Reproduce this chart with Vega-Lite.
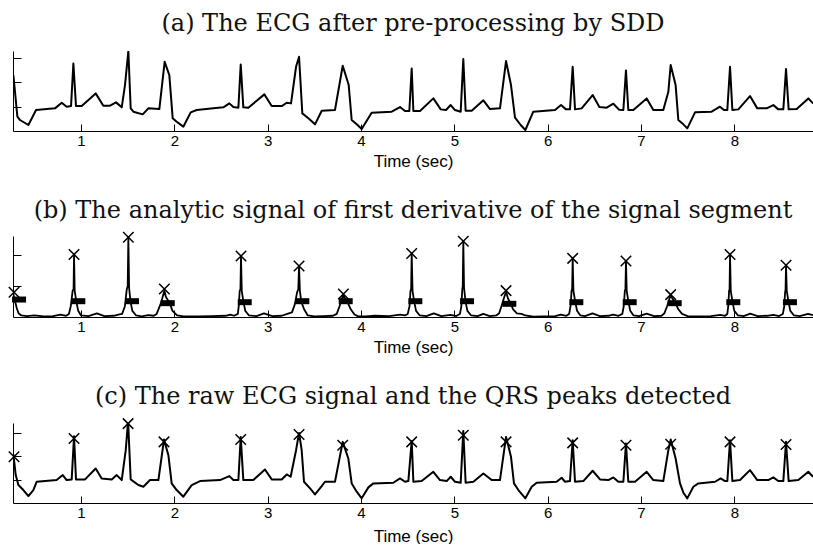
{
 "$schema": "https://vega.github.io/schema/vega-lite/v6.json",
 "padding": {"left": 5, "top": 12, "right": 0, "bottom": 0},
 "spacing": 30,
 "config": {
  "view": {"stroke": null},
  "title": {"font": "DejaVu Serif", "fontSize": 24, "fontWeight": "normal", "color": "#111", "baseline": "alphabetic", "anchor": "middle", "frame": "group"},
  "axis": {"grid": false, "domainColor": "#000", "tickColor": "#000", "labelColor": "#000", "titleColor": "#000", "labelFont": "Liberation Sans", "titleFont": "Liberation Sans", "labelFontSize": 15, "titleFontSize": 17, "titleFontWeight": "normal", "domainWidth": 1, "tickWidth": 1},
  "axisX": {"tickSize": -7, "labelPadding": 9, "titlePadding": 5, "labelFlush": false},
  "axisY": {"tickSize": -8, "labels": false}
 },
 "datasets": {
  "a": [
   {"t":0.275,"v":2.29},{"t":0.318,"v":0.585},{"t":0.346,"v":0.449},{"t":0.436,"v":0.245},{"t":0.518,"v":0.857},{"t":0.721,"v":0.925},{"t":0.793,"v":1.156},{"t":0.846,"v":0.993},{"t":0.893,"v":1.02},{"t":0.918,"v":2.76},{"t":0.946,"v":1.02},{"t":1.007,"v":1.02},{"t":1.157,"v":1.537},{"t":1.239,"v":1.034},{"t":1.311,"v":1.034},{"t":1.375,"v":1.17},{"t":1.436,"v":0.966},{"t":1.471,"v":1.878},{"t":1.507,"v":3.265},{"t":1.532,"v":0.925},{"t":1.561,"v":0.789},{"t":1.661,"v":0.68},{"t":1.721,"v":0.925},{"t":1.839,"v":0.898},{"t":1.896,"v":2.83},{"t":1.946,"v":2.286},{"t":1.982,"v":0.517},{"t":2.025,"v":0.381},{"t":2.096,"v":0.177},{"t":2.175,"v":0.762},{"t":2.239,"v":0.857},{"t":2.418,"v":0.925},{"t":2.525,"v":0.966},{"t":2.589,"v":1.129},{"t":2.632,"v":0.98},{"t":2.686,"v":0.952},{"t":2.711,"v":2.72},{"t":2.739,"v":0.966},{"t":2.793,"v":0.952},{"t":2.964,"v":1.497},{"t":3.043,"v":1.02},{"t":3.15,"v":1.02},{"t":3.204,"v":1.156},{"t":3.25,"v":1.129},{"t":3.304,"v":2.626},{"t":3.336,"v":3.034},{"t":3.371,"v":0.721},{"t":3.436,"v":0.517},{"t":3.507,"v":0.272},{"t":3.579,"v":0.83},{"t":3.721,"v":0.857},{"t":3.804,"v":2.667},{"t":3.868,"v":1.878},{"t":3.9,"v":0.449},{"t":3.954,"v":0.272},{"t":4.007,"v":0.082},{"t":4.114,"v":0.748},{"t":4.329,"v":0.789},{"t":4.418,"v":0.98},{"t":4.471,"v":0.816},{"t":4.518,"v":0.816},{"t":4.543,"v":2.558},{"t":4.561,"v":0.816},{"t":4.632,"v":0.816},{"t":4.775,"v":1.333},{"t":4.854,"v":0.884},{"t":4.911,"v":0.857},{"t":4.961,"v":1.061},{"t":5.007,"v":0.857},{"t":5.068,"v":0.789},{"t":5.096,"v":2.939},{"t":5.121,"v":0.83},{"t":5.186,"v":0.83},{"t":5.311,"v":1.252},{"t":5.382,"v":0.898},{"t":5.489,"v":0.925},{"t":5.554,"v":2.857},{"t":5.607,"v":1.878},{"t":5.65,"v":0.544},{"t":5.711,"v":0.245},{"t":5.761,"v":0.041},{"t":5.846,"v":0.789},{"t":6.079,"v":0.857},{"t":6.143,"v":1.061},{"t":6.196,"v":0.884},{"t":6.239,"v":0.884},{"t":6.268,"v":2.626},{"t":6.293,"v":0.884},{"t":6.364,"v":0.925},{"t":6.482,"v":1.469},{"t":6.554,"v":0.98},{"t":6.632,"v":0.952},{"t":6.704,"v":1.116},{"t":6.764,"v":0.871},{"t":6.811,"v":0.857},{"t":6.839,"v":2.476},{"t":6.864,"v":0.857},{"t":6.918,"v":0.857},{"t":7.061,"v":1.333},{"t":7.132,"v":0.857},{"t":7.239,"v":0.857},{"t":7.293,"v":1.605},{"t":7.318,"v":2.694},{"t":7.371,"v":1.878},{"t":7.4,"v":0.449},{"t":7.454,"v":0.272},{"t":7.496,"v":0.109},{"t":7.579,"v":0.762},{"t":7.757,"v":0.789},{"t":7.846,"v":0.993},{"t":7.889,"v":0.857},{"t":7.925,"v":0.857},{"t":7.954,"v":2.626},{"t":7.979,"v":0.857},{"t":8.043,"v":0.884},{"t":8.168,"v":1.429},{"t":8.246,"v":0.925},{"t":8.346,"v":0.925},{"t":8.418,"v":1.061},{"t":8.471,"v":0.884},{"t":8.525,"v":0.884},{"t":8.554,"v":2.531},{"t":8.582,"v":0.884},{"t":8.668,"v":0.898},{"t":8.793,"v":1.333},{"t":8.843,"v":1.129}
  ],
  "b": [
   {"t":0.275,"v":0.75},{"t":0.29,"v":0.55},{"t":0.31,"v":0.3},{"t":0.33,"v":0.12},{"t":0.36,"v":0.05},{"t":0.42,"v":0.03},{"t":0.5,"v":0.05},{"t":0.6,"v":0.02},{"t":0.7,"v":0.03},{"t":0.78,"v":0.08},{"t":0.84,"v":0.04},{"t":0.87,"v":0.1},
   {"t":0.89,"v":0.35},{"t":0.91,"v":0.85},{"t":0.92,"v":0.9},{"t":0.925,"v":2.03},{"t":0.932,"v":0.85},{"t":0.95,"v":0.5},{"t":0.97,"v":0.2},{"t":1.0,"v":0.05},
   {"t":1.08,"v":0.03},{"t":1.17,"v":0.12},{"t":1.25,"v":0.03},{"t":1.35,"v":0.04},{"t":1.4,"v":0.08},{"t":1.44,"v":0.1},
   {"t":1.47,"v":0.35},{"t":1.49,"v":0.9},{"t":1.5,"v":1.0},{"t":1.507,"v":2.59},{"t":1.515,"v":0.95},{"t":1.53,"v":0.5},{"t":1.55,"v":0.2},{"t":1.59,"v":0.05},
   {"t":1.65,"v":0.02},{"t":1.72,"v":0.06},{"t":1.78,"v":0.04},
   {"t":1.81,"v":0.1},{"t":1.85,"v":0.4},{"t":1.87,"v":0.6},{"t":1.893,"v":0.85},{"t":1.91,"v":0.65},{"t":1.95,"v":0.45},{"t":1.98,"v":0.2},{"t":2.03,"v":0.05},
   {"t":2.1,"v":0.02},{"t":2.25,"v":0.02},{"t":2.4,"v":0.03},{"t":2.55,"v":0.04},{"t":2.6,"v":0.08},{"t":2.64,"v":0.04},{"t":2.68,"v":0.1},
   {"t":2.69,"v":0.35},{"t":2.7,"v":0.85},{"t":2.708,"v":0.9},{"t":2.714,"v":1.98},{"t":2.722,"v":0.85},{"t":2.74,"v":0.5},{"t":2.76,"v":0.2},{"t":2.8,"v":0.05},
   {"t":2.88,"v":0.03},{"t":2.96,"v":0.12},{"t":3.05,"v":0.03},{"t":3.15,"v":0.04},{"t":3.21,"v":0.1},{"t":3.26,"v":0.15},
   {"t":3.29,"v":0.4},{"t":3.315,"v":0.8},{"t":3.328,"v":0.9},{"t":3.336,"v":1.66},{"t":3.345,"v":0.85},{"t":3.36,"v":0.5},{"t":3.39,"v":0.25},{"t":3.43,"v":0.05},
   {"t":3.5,"v":0.02},{"t":3.6,"v":0.03},{"t":3.7,"v":0.04},{"t":3.74,"v":0.1},
   {"t":3.77,"v":0.35},{"t":3.79,"v":0.55},{"t":3.811,"v":0.72},{"t":3.83,"v":0.6},{"t":3.86,"v":0.45},{"t":3.89,"v":0.25},{"t":3.93,"v":0.08},{"t":3.97,"v":0.02},
   {"t":4.05,"v":0.02},{"t":4.15,"v":0.04},{"t":4.3,"v":0.03},{"t":4.42,"v":0.08},{"t":4.47,"v":0.05},{"t":4.5,"v":0.1},
   {"t":4.52,"v":0.35},{"t":4.53,"v":0.85},{"t":4.537,"v":0.9},{"t":4.543,"v":2.06},{"t":4.552,"v":0.85},{"t":4.57,"v":0.5},{"t":4.59,"v":0.2},{"t":4.63,"v":0.05},
   {"t":4.7,"v":0.03},{"t":4.78,"v":0.12},{"t":4.86,"v":0.03},{"t":4.96,"v":0.07},{"t":5.02,"v":0.03},{"t":5.06,"v":0.1},
   {"t":5.075,"v":0.35},{"t":5.085,"v":0.9},{"t":5.09,"v":1.0},{"t":5.096,"v":2.46},{"t":5.104,"v":0.95},{"t":5.12,"v":0.5},{"t":5.14,"v":0.2},{"t":5.18,"v":0.05},
   {"t":5.25,"v":0.03},{"t":5.31,"v":0.1},{"t":5.38,"v":0.03},{"t":5.45,"v":0.05},
   {"t":5.48,"v":0.12},{"t":5.51,"v":0.4},{"t":5.53,"v":0.6},{"t":5.554,"v":0.82},{"t":5.575,"v":0.6},{"t":5.6,"v":0.45},{"t":5.63,"v":0.25},{"t":5.67,"v":0.12},{"t":5.72,"v":0.1},{"t":5.76,"v":0.05},
   {"t":5.85,"v":0.01},{"t":5.95,"v":0.02},{"t":6.08,"v":0.03},{"t":6.14,"v":0.08},{"t":6.2,"v":0.04},{"t":6.23,"v":0.1},
   {"t":6.245,"v":0.35},{"t":6.256,"v":0.85},{"t":6.262,"v":0.9},{"t":6.268,"v":1.9},{"t":6.276,"v":0.85},{"t":6.295,"v":0.5},{"t":6.315,"v":0.2},{"t":6.35,"v":0.05},
   {"t":6.4,"v":0.03},{"t":6.48,"v":0.12},{"t":6.56,"v":0.03},{"t":6.65,"v":0.04},{"t":6.7,"v":0.08},{"t":6.76,"v":0.04},{"t":6.8,"v":0.1},
   {"t":6.815,"v":0.35},{"t":6.827,"v":0.85},{"t":6.833,"v":0.9},{"t":6.839,"v":1.82},{"t":6.847,"v":0.85},{"t":6.865,"v":0.5},{"t":6.885,"v":0.2},{"t":6.92,"v":0.05},
   {"t":6.98,"v":0.03},{"t":7.06,"v":0.11},{"t":7.14,"v":0.03},{"t":7.22,"v":0.04},
   {"t":7.25,"v":0.12},{"t":7.28,"v":0.35},{"t":7.3,"v":0.55},{"t":7.318,"v":0.7},{"t":7.34,"v":0.58},{"t":7.37,"v":0.45},{"t":7.4,"v":0.25},{"t":7.44,"v":0.1},{"t":7.5,"v":0.03},
   {"t":7.6,"v":0.02},{"t":7.75,"v":0.03},{"t":7.85,"v":0.07},{"t":7.9,"v":0.04},{"t":7.925,"v":0.1},
   {"t":7.935,"v":0.35},{"t":7.944,"v":0.85},{"t":7.949,"v":0.9},{"t":7.954,"v":2.03},{"t":7.962,"v":0.85},{"t":7.98,"v":0.5},{"t":8.0,"v":0.2},{"t":8.04,"v":0.05},
   {"t":8.1,"v":0.03},{"t":8.17,"v":0.11},{"t":8.25,"v":0.03},{"t":8.35,"v":0.04},{"t":8.42,"v":0.07},{"t":8.48,"v":0.03},{"t":8.52,"v":0.1},
   {"t":8.535,"v":0.35},{"t":8.544,"v":0.8},{"t":8.549,"v":0.9},{"t":8.554,"v":1.68},{"t":8.562,"v":0.85},{"t":8.58,"v":0.5},{"t":8.6,"v":0.2},{"t":8.64,"v":0.05},
   {"t":8.7,"v":0.03},{"t":8.79,"v":0.1},{"t":8.843,"v":0.06}
  ],
  "bx": [
   {"t":0.282,"v":0.802},{"t":0.925,"v":2.032},{"t":1.507,"v":2.588},{"t":1.893,"v":0.909},{"t":2.714,"v":1.979},{"t":3.336,"v":1.658},{"t":3.811,"v":0.749},{"t":4.543,"v":2.064},{"t":5.096,"v":2.46},{"t":5.554,"v":0.856},{"t":6.268,"v":1.904},{"t":6.839,"v":1.818},{"t":7.318,"v":0.727},{"t":7.954,"v":2.032},{"t":8.554,"v":1.679}
  ],
  "bbar": [
   {"t":0.336,"v":0.567},{"t":0.971,"v":0.513},{"t":1.546,"v":0.513},{"t":1.929,"v":0.449},{"t":2.754,"v":0.481},{"t":3.371,"v":0.513},{"t":3.836,"v":0.513},{"t":4.582,"v":0.513},{"t":5.136,"v":0.513},{"t":5.589,"v":0.428},{"t":6.307,"v":0.481},{"t":6.879,"v":0.481},{"t":7.361,"v":0.449},{"t":7.989,"v":0.481},{"t":8.596,"v":0.481}
  ],
  "c": [
   {"t":0.275,"v":2.1},{"t":0.3,"v":1.2},{"t":0.329,"v":0.771},{"t":0.382,"v":0.557},{"t":0.436,"v":0.3},{"t":0.489,"v":0.557},{"t":0.525,"v":0.914},{"t":0.739,"v":0.986},{"t":0.804,"v":1.2},{"t":0.846,"v":0.986},{"t":0.9,"v":1.014},{"t":0.925,"v":2.871},{"t":0.946,"v":1.014},{"t":1.043,"v":1.014},{"t":1.157,"v":1.486},{"t":1.221,"v":1.057},{"t":1.329,"v":1.014},{"t":1.382,"v":1.2},{"t":1.436,"v":0.986},{"t":1.479,"v":2.271},{"t":1.504,"v":3.529},{"t":1.532,"v":1.014},{"t":1.614,"v":0.771},{"t":1.668,"v":0.7},{"t":1.739,"v":0.986},{"t":1.829,"v":0.986},{"t":1.889,"v":2.729},{"t":1.936,"v":2.057},{"t":1.971,"v":0.843},{"t":2.025,"v":0.557},{"t":2.096,"v":0.271},{"t":2.186,"v":0.771},{"t":2.275,"v":0.943},{"t":2.489,"v":0.986},{"t":2.589,"v":1.157},{"t":2.632,"v":0.986},{"t":2.686,"v":0.986},{"t":2.711,"v":2.843},{"t":2.739,"v":0.986},{"t":2.846,"v":0.986},{"t":2.971,"v":1.443},{"t":3.043,"v":1.014},{"t":3.15,"v":1.014},{"t":3.204,"v":1.229},{"t":3.246,"v":1.129},{"t":3.304,"v":2.271},{"t":3.336,"v":3.014},{"t":3.364,"v":2.271},{"t":3.389,"v":0.914},{"t":3.454,"v":0.629},{"t":3.507,"v":0.371},{"t":3.579,"v":0.729},{"t":3.614,"v":0.914},{"t":3.721,"v":0.914},{"t":3.804,"v":2.629},{"t":3.864,"v":1.914},{"t":3.9,"v":0.843},{"t":3.954,"v":0.486},{"t":4.007,"v":0.2},{"t":4.079,"v":0.671},{"t":4.132,"v":0.843},{"t":4.346,"v":0.871},{"t":4.418,"v":1.057},{"t":4.471,"v":0.914},{"t":4.507,"v":0.943},{"t":4.543,"v":2.671},{"t":4.561,"v":0.914},{"t":4.65,"v":0.943},{"t":4.775,"v":1.343},{"t":4.846,"v":0.986},{"t":4.918,"v":0.943},{"t":4.961,"v":1.129},{"t":5.007,"v":0.914},{"t":5.068,"v":0.871},{"t":5.096,"v":3.1},{"t":5.121,"v":0.871},{"t":5.204,"v":0.914},{"t":5.311,"v":1.271},{"t":5.4,"v":0.986},{"t":5.489,"v":0.986},{"t":5.554,"v":2.843},{"t":5.607,"v":1.986},{"t":5.639,"v":0.843},{"t":5.686,"v":0.557},{"t":5.761,"v":0.2},{"t":5.829,"v":0.7},{"t":5.882,"v":0.871},{"t":6.096,"v":0.914},{"t":6.15,"v":1.086},{"t":6.186,"v":0.914},{"t":6.239,"v":0.943},{"t":6.268,"v":2.7},{"t":6.293,"v":0.914},{"t":6.382,"v":0.943},{"t":6.482,"v":1.386},{"t":6.561,"v":1.014},{"t":6.65,"v":0.986},{"t":6.704,"v":1.1},{"t":6.757,"v":0.914},{"t":6.811,"v":0.914},{"t":6.839,"v":2.557},{"t":6.864,"v":0.914},{"t":6.936,"v":0.914},{"t":7.061,"v":1.343},{"t":7.132,"v":0.986},{"t":7.239,"v":0.943},{"t":7.293,"v":2.271},{"t":7.318,"v":2.729},{"t":7.371,"v":1.914},{"t":7.418,"v":0.843},{"t":7.454,"v":0.443},{"t":7.496,"v":0.2},{"t":7.561,"v":0.7},{"t":7.614,"v":0.843},{"t":7.793,"v":0.914},{"t":7.854,"v":1.057},{"t":7.9,"v":0.943},{"t":7.925,"v":0.943},{"t":7.954,"v":2.7},{"t":7.979,"v":0.943},{"t":8.061,"v":0.986},{"t":8.168,"v":1.414},{"t":8.246,"v":0.986},{"t":8.364,"v":0.986},{"t":8.418,"v":1.1},{"t":8.471,"v":0.943},{"t":8.525,"v":0.943},{"t":8.554,"v":2.629},{"t":8.582,"v":0.943},{"t":8.686,"v":0.986},{"t":8.793,"v":1.343},{"t":8.843,"v":1.129}
  ],
  "cx": [
   {"t":0.282,"v":1.986},{"t":0.925,"v":2.771},{"t":1.504,"v":3.414},{"t":1.889,"v":2.629},{"t":2.711,"v":2.729},{"t":3.336,"v":2.943},{"t":3.804,"v":2.486},{"t":4.543,"v":2.629},{"t":5.096,"v":2.914},{"t":5.554,"v":2.629},{"t":6.268,"v":2.586},{"t":6.839,"v":2.486},{"t":7.318,"v":2.529},{"t":7.954,"v":2.629},{"t":8.554,"v":2.514}
  ]
 },
 "vconcat": [
  {
   "title": {"text": "(a) The ECG after pre-processing by SDD", "offset": 15},
   "width": 800, "height": 80,
   "data": {"name": "a"},
   "mark": {"type": "line", "color": "#000", "strokeWidth": 2, "strokeJoin": "round", "clip": true},
   "encoding": {
    "x": {"field": "t", "type": "quantitative", "title": "Time (sec)", "scale": {"domain": [0.271, 8.843], "nice": false, "zero": false}, "axis": {"values": [1,2,3,4,5,6,7,8], "format": "d"}},
    "y": {"field": "v", "type": "quantitative", "title": null, "scale": {"domain": [0, 3.27], "nice": false, "zero": false}, "axis": {"values": [1,2,3]}}
   }
  },
  {
   "title": {"text": "(b) The analytic signal of first derivative of the signal segment", "offset": 6},
   "width": 800, "height": 81,
   "encoding": {
    "x": {"field": "t", "type": "quantitative", "title": "Time (sec)", "scale": {"domain": [0.271, 8.843], "nice": false, "zero": false}, "axis": {"values": [1,2,3,4,5,6,7,8], "format": "d"}},
    "y": {"field": "v", "type": "quantitative", "title": null, "scale": {"domain": [0, 2.63], "nice": false, "zero": false}, "axis": {"values": [1,2]}}
   },
   "layer": [
    {"data": {"name": "b"}, "mark": {"type": "line", "color": "#000", "strokeWidth": 1.8, "strokeJoin": "round", "clip": true}},
    {"data": {"name": "bbar"}, "mark": {"type": "tick", "orient": "horizontal", "size": 14, "thickness": 6, "color": "#000", "opacity": 1}},
    {"data": {"name": "bx"}, "mark": {"type": "point", "shape": "M-1,-1L1,1M-1,1L1,-1", "filled": false, "size": 110, "strokeWidth": 1.5, "color": "#000", "opacity": 1}}
   ]
  },
  {
   "title": {"text": "(c) The raw ECG signal and the QRS peaks detected", "offset": 6},
   "width": 800, "height": 80,
   "encoding": {
    "x": {"field": "t", "type": "quantitative", "title": "Time (sec)", "scale": {"domain": [0.271, 8.843], "nice": false, "zero": false}, "axis": {"values": [1,2,3,4,5,6,7,8], "format": "d", "titlePadding": 8}},
    "y": {"field": "v", "type": "quantitative", "title": null, "scale": {"domain": [0, 3.44], "nice": false, "zero": false}, "axis": {"values": [1,2,3]}}
   },
   "layer": [
    {"data": {"name": "c"}, "mark": {"type": "line", "color": "#000", "strokeWidth": 2, "strokeJoin": "round", "clip": true}},
    {"data": {"name": "cx"}, "mark": {"type": "point", "shape": "M-1,-1L1,1M-1,1L1,-1", "filled": false, "size": 110, "strokeWidth": 1.5, "color": "#000", "opacity": 1}}
   ]
  }
 ]
}
